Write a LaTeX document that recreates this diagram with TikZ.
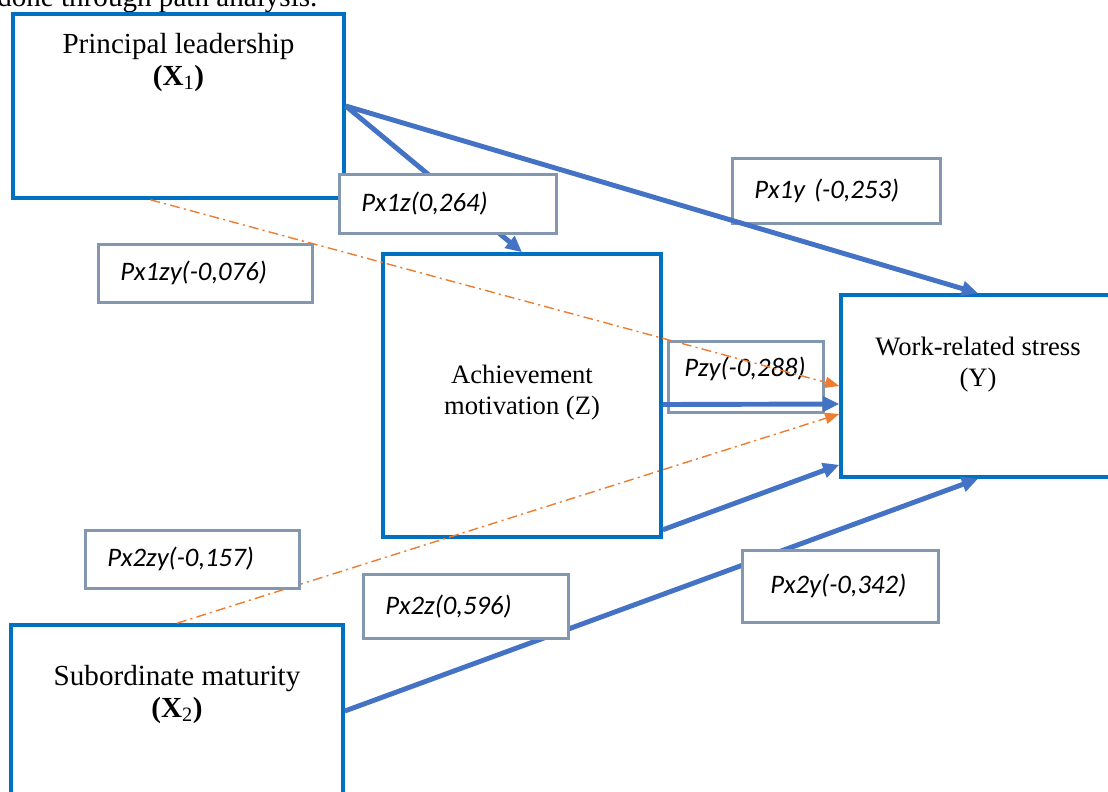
\documentclass[tikz,border=0pt]{standalone}
\usepackage{fontspec}
\setmainfont{Liberation Serif}
\newfontfamily\coeffont{Carlito}
\usetikzlibrary{arrows.meta,calc,positioning}

\definecolor{boxblue}{RGB}{0,112,192}
\definecolor{pathblue}{RGB}{68,114,196}
\definecolor{indirectorange}{RGB}{237,125,49}
\definecolor{coefgray}{RGB}{132,151,176}

\tikzset{
  varbox/.style={draw=boxblue, line width=2.5pt, inner sep=0pt, align=center,
    font=\fontsize{18.9}{22}\selectfont},
  vartext/.style={inner sep=0pt, align=center, font=\fontsize{20.7}{22.5}\selectfont},
  coefbox/.style={draw=coefgray, line width=1.8pt, fill=white, anchor=north west,
    inner xsep=0.55cm, inner ysep=0pt, align=left,
    font=\coeffont\itshape\fontsize{19}{22}\selectfont},
  causal/.style={draw=pathblue, line width=3.5pt,
    -{Triangle[length=11.5pt,width=10.5pt]}},
  indirect/.style={draw=indirectorange, line width=1pt,
    dash pattern=on 7pt off 3pt on 1.5pt off 3pt,
    -{Triangle[length=10pt,width=8pt]}}
}

\begin{document}
\begin{tikzpicture}[x=0.025cm, y=-0.025cm]
			%%%%% FRAME %%%%%
			\useasboundingbox (0,0) rectangle (1108,791);
			\node[anchor=base west, inner sep=0pt, font=\fontsize{20.7}{22.5}\selectfont] (caption) at (-3,6) {done through path analysis.};
			
			%%%%% VARIABLES %%%%%
			\node[varbox, minimum width=8.275cm, minimum height=4.6cm] (x1) at (178.5,106) {};
			\node[vartext, below=15pt of x1.north] (x1text) {Principal leadership\\\textbf{(X}\textsubscript{1}\textbf{)}};
			
			\node[varbox, minimum width=6.95cm, minimum height=7.075cm] (z) at (522,395.5) {};
			\node[vartext, below=80pt of z.north, font=\fontsize{18.9}{22}\selectfont] (ztext) {Achievement\\motivation (Z)};
			
			\node[varbox, minimum width=6.85cm, minimum height=4.55cm] (y) at (978,386) {};
			\node[vartext, below=31pt of y.north, font=\fontsize{18.9}{22}\selectfont] (ytext) {Work-related stress\\(Y)};
			
			\node[varbox, minimum width=8.3cm, minimum height=4.3cm] (x2) at (177,711) {};
			\node[vartext, below=30pt of x2.north] (x2text) {Subordinate maturity\\\textbf{(X}\textsubscript{2}\textbf{)}};
			
			%%%%% COEFFICIENTS UNDER THE PATHS %%%%%
			\node[coefbox, text width=3.075cm, minimum height=1.775cm, inner xsep=0.4cm, text depth=14pt] (pzy) at (667,340) {Pzy(-0,288)};
			\node[coefbox, text width=4.1cm, minimum height=1.625cm] (px1y) at (731,157) {Px1y (-0,253)};
			
			%%%%% PATHS %%%%%
			\draw[causal] ($(z.east)+(0,9)$) -- ($(y.west)+(0,18)$);
			\draw[causal] (x1.east) -- (z.north);
			\draw[causal] (x1.east) -- (y.north);
			\draw[causal] ($(z.south east)+(0,-9)$) -- ($(y.south west)+(0,-14)$);
			\draw[causal] (x2.east) -- (y.south);
			
			\draw[indirect] ($(x1.south)+(-28,0)$) -- (y.west);
			\draw[indirect] (x2.north) -- ($(y.west)+(0,28)$);
			
			%%%%% COEFFICIENTS OVER THE PATHS %%%%%
			\node[coefbox, text width=4.325cm, minimum height=1.475cm] (px1z) at (338,173) {Px1z(0,264)};
			\node[coefbox, text width=4.25cm, minimum height=1.45cm] (px1zy) at (97,243) {Px1zy(-0,076)};
			\node[coefbox, text width=4.25cm, minimum height=1.45cm] (px2zy) at (84,529) {Px2zy(-0,157)};
			\node[coefbox, text width=4.025cm, minimum height=1.6cm] (px2z) at (362,573) {Px2z(0,596)};
			\node[coefbox, text width=3.5cm, minimum height=1.8cm, inner xsep=0.7cm] (px2y) at (741,549) {Px2y(-0,342)};
			
			%%%%% END %%%%%
\end{tikzpicture}
\end{document}
